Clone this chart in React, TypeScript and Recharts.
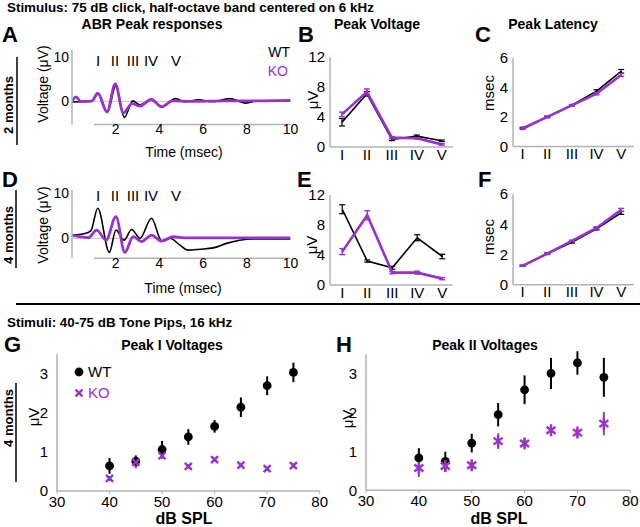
import React from 'react';
import { LineChart, Line, XAxis, YAxis, ReferenceLine, ErrorBar, ScatterChart, Scatter } from 'recharts';

const FONT = '"Liberation Sans", Arial, Helvetica, sans-serif';
const PURPLE = '#9932cc';
const AXIS = '#b3b3b3';

// ---------- Panel A (2 months ABR traces) ----------
const aWtT = [0, 0.4, 0.9, 1.2, 1.62, 2.0, 2.4, 2.78, 3.1, 3.65, 4.1, 4.75, 5.15, 5.8, 6.4, 7.2, 7.95, 8.5, 10];
const aWtV = [-0.15, -0.1, 0.0, 1.7, -2.4, 3.4, -3.6, 0.1, -0.8, 0.45, -1.3, 0.6, -0.1, 0.35, -0.1, 0.6, -0.4, 0.1, 0.15];
const aKoT = [0, 0.18, 0.4, 0.9, 1.18, 1.6, 1.98, 2.35, 2.75, 3.1, 3.62, 4.1, 4.6, 5.5, 7.0, 8.5, 10];
const aKoV = [0.0, 1.0, 0.0, 0.05, 1.8, -2.4, 3.9, -2.6, -0.5, -1.1, 0.4, -1.2, 0.1, 0.0, 0.1, 0.1, 0.2];

// ---------- Panel D (4 months ABR traces) ----------
const dWtT = [0, 0.6, 0.86, 1.18, 1.71, 2.01, 2.38, 2.73, 3.11, 3.64, 4.1, 4.48, 4.94, 5.32, 5.85, 6.46, 7.07, 7.68, 8.28, 10];
const dWtV = [0.73, 1.1, 1.64, 6.67, -3.1, 1.84, -0.38, 1.96, 0.03, 4.44, -0.53, 0.03, -1.49, -2.6, -2.4, -2.1, -1.1, -0.4, -0.15, -0.15];
const dKoT = [0, 0.37, 0.75, 1.13, 1.56, 2.01, 2.42, 2.8, 3.19, 3.64, 4.1, 4.63, 5.24, 10];
const dKoV = [0.73, 0.36, 0.14, 1.84, -0.4, 4.8, -3.1, 0.4, -0.7, 0.73, -0.6, 0.36, 0.1, 0.1];

const timeTicks = [2, 4, 6, 8, 10];

// ---------- Peak panels B, C, E, F ----------
const peakLabels = ['I', 'II', 'III', 'IV', 'V'];
const peakIdx = [1, 2, 3, 4, 5];

const bWt = [3.3, 7.1, 1.0, 1.45, 0.83];
const bWtErr = [0.5, 0.3, 0.15, 0.15, 0.1];
const bKo = [4.35, 7.35, 1.25, 1.16, 0.35];
const bKoErr = [0.3, 0.4, 0.15, 0.1, 0.1];

const cWt = [1.25, 2.0, 2.8, 3.75, 5.1];
const cWtErr = [0.05, 0.05, 0.05, 0.1, 0.12];
const cKo = [1.2, 2.0, 2.78, 3.58, 4.85];
const cKoErr = [0.05, 0.05, 0.05, 0.08, 0.1];

const eWt = [10.1, 3.2, 2.3, 6.3, 3.8];
const eWtErr = [0.6, 0.15, 0.2, 0.4, 0.3];
const eKo = [4.45, 9.3, 1.65, 1.65, 0.85];
const eKoErr = [0.4, 0.6, 0.15, 0.2, 0.15];

const fWt = [1.25, 2.05, 2.8, 3.7, 4.75];
const fWtErr = [0.04, 0.05, 0.05, 0.08, 0.1];
const fKo = [1.25, 2.05, 2.9, 3.75, 4.95];
const fKoErr = [0.04, 0.05, 0.05, 0.08, 0.1];

// ---------- Panels G, H (tone pips) ----------
const dbLevels = [40, 45, 50, 55, 60, 65, 70, 75];
const dbTicks = [30, 40, 50, 60, 70, 80];
const uvTicks = [0, 1, 2, 3];

const gWt = [0.64, 0.76, 1.06, 1.38, 1.65, 2.14, 2.69, 3.03];
const gWtErr = [0.2, 0.15, 0.22, 0.2, 0.16, 0.25, 0.24, 0.25];
const gKo = [0.32, 0.73, 0.9, 0.63, 0.8, 0.66, 0.57, 0.65];
const gKoErr = [0.06, 0.15, 0.08, 0.05, 0.05, 0.05, 0.05, 0.05];

const hWt = [0.83, 0.74, 1.21, 1.94, 2.58, 3.0, 3.27, 2.9];
const hWtErr = [0.25, 0.25, 0.24, 0.3, 0.37, 0.4, 0.3, 0.5];
const hKo = [0.57, 0.62, 0.64, 1.26, 1.2, 1.54, 1.48, 1.71];
const hKoErr = [0.23, 0.12, 0.1, 0.2, 0.12, 0.12, 0.12, 0.3];

// ---------- helpers ----------
function frame(x0: number, y0: number, x1: number, y1: number, yw: number, xh: number) {
  const pad = 12;
  return {
    style: { position: 'absolute' as const, left: x0 - yw, top: y0 - pad },
    width: x1 - x0 + yw + pad,
    height: y1 - y0 + xh + 2 * pad,
    margin: { top: pad, right: pad, bottom: pad, left: 0 },
    yw,
    xh,
  };
}

const zip = (ts: number[], vs: number[]) => ts.map((t, i) => ({ t, v: vs[i] }));
const peakTable = (wt: number[], wtErr: number[], ko: number[], koErr: number[]) =>
  peakIdx.map((x, i) => ({ x, wt: wt[i], wtErr: wtErr[i], ko: ko[i], koErr: koErr[i] }));
const dbTable = (vals: number[], errs: number[]) => dbLevels.map((x, i) => ({ x, y: vals[i], err: errs[i] }));

const tickStyle = (fs: number) => ({ fontSize: fs, fill: '#000', fontFamily: FONT });

function TracePanel({ f, wtT, wtV, koT, koV, yDomain }: any) {
  return (
    <div style={f.style}>
      <LineChart width={f.width} height={f.height} margin={f.margin}>
        <XAxis type="number" dataKey="t" domain={[0, 10]} ticks={timeTicks} allowDataOverflow axisLine={false}
          tickLine={false} tickSize={0} tickMargin={0} tick={tickStyle(14)} height={f.xh} />
        <YAxis type="number" domain={yDomain} ticks={[0, 10]} allowDataOverflow width={f.yw}
          axisLine={{ stroke: AXIS, strokeWidth: 1.5 }} tickLine={false} tickSize={0} tickMargin={3} tick={tickStyle(14)} />
        <ReferenceLine y={0} stroke="#cccccc" strokeWidth={1.2} />
        <ReferenceLine segment={[{ x: 1, y: yDomain[0] }, { x: 10, y: yDomain[0] }]} stroke={AXIS} strokeWidth={1.5} ifOverflow="visible" />
        <Line data={zip(wtT, wtV)} dataKey="v" type="monotone" stroke="#000" strokeWidth={1.6} dot={false} isAnimationActive={false} />
        <Line data={zip(koT, koV)} dataKey="v" type="monotone" stroke={PURPLE} strokeWidth={2.8} dot={false} isAnimationActive={false} />
      </LineChart>
    </div>
  );
}

function PeakPanel({ f, data, xDomain, yDomain, yTicks }: any) {
  return (
    <div style={f.style}>
      <LineChart width={f.width} height={f.height} margin={f.margin} data={data}>
        <XAxis type="number" dataKey="x" domain={xDomain} ticks={peakIdx} allowDataOverflow
          tickFormatter={(v: number) => peakLabels[v - 1]} axisLine={{ stroke: AXIS, strokeWidth: 1.5 }}
          tickLine={false} tickSize={0} tickMargin={2} tick={tickStyle(15)} height={f.xh} />
        <YAxis type="number" domain={yDomain} ticks={yTicks} allowDataOverflow width={f.yw}
          axisLine={{ stroke: AXIS, strokeWidth: 1.5 }} tickLine={false} tickSize={0} tickMargin={5} tick={tickStyle(15)} />
        <Line dataKey="wt" type="linear" stroke="#000" strokeWidth={1.6} dot={false} isAnimationActive={false}>
          <ErrorBar dataKey="wtErr" direction="y" width={3} stroke="#000" strokeWidth={1.2} />
        </Line>
        <Line dataKey="ko" type="linear" stroke={PURPLE} strokeWidth={2.6} dot={false} isAnimationActive={false}>
          <ErrorBar dataKey="koErr" direction="y" width={3} stroke={PURPLE} strokeWidth={1.4} />
        </Line>
      </LineChart>
    </div>
  );
}

const DotShape = (p: any) => <circle cx={p.cx} cy={p.cy} r={4.4} fill="#000" />;
const XShape = (p: any) => (
  <g stroke={PURPLE} strokeWidth={2.4}>
    <line x1={p.cx - 3.5} y1={p.cy - 3.5} x2={p.cx + 3.5} y2={p.cy + 3.5} />
    <line x1={p.cx - 3.5} y1={p.cy + 3.5} x2={p.cx + 3.5} y2={p.cy - 3.5} />
  </g>
);
const StarShape = (p: any) => (
  <g stroke={PURPLE} strokeWidth={2.4}>
    <line x1={p.cx - 4.5} y1={p.cy - 3.5} x2={p.cx + 4.5} y2={p.cy + 3.5} />
    <line x1={p.cx - 4.5} y1={p.cy + 3.5} x2={p.cx + 4.5} y2={p.cy - 3.5} />
    <line x1={p.cx} y1={p.cy - 6} x2={p.cx} y2={p.cy + 6} />
  </g>
);

function DbPanel({ f, wt, ko, koShape }: any) {
  return (
    <div style={f.style}>
      <ScatterChart width={f.width} height={f.height} margin={f.margin}>
        <XAxis type="number" dataKey="x" domain={[30, 80]} ticks={dbTicks} allowDataOverflow
          axisLine={{ stroke: AXIS, strokeWidth: 1.5 }} tickLine={{ stroke: AXIS }} tickSize={3} tickMargin={2}
          tick={tickStyle(15)} height={f.xh} />
        <YAxis type="number" dataKey="y" domain={[0, 3.5]} ticks={uvTicks} allowDataOverflow width={f.yw}
          axisLine={{ stroke: AXIS, strokeWidth: 1.5 }} tickLine={false} tickSize={0} tickMargin={9} tick={tickStyle(15)} />
        <Scatter data={wt} dataKey="y" shape={DotShape} isAnimationActive={false}>
          <ErrorBar dataKey="err" direction="y" width={0} stroke="#000" strokeWidth={2} />
        </Scatter>
        <Scatter data={ko} dataKey="y" shape={koShape} isAnimationActive={false}>
          <ErrorBar dataKey="err" direction="y" width={0} stroke={PURPLE} strokeWidth={2} />
        </Scatter>
      </ScatterChart>
    </div>
  );
}

const txt = { fontFamily: FONT, fill: '#000' };

function Rot({ x, y, children, size = 14, bold = false }: any) {
  return (
    <text transform={`translate(${x},${y}) rotate(-90)`} textAnchor="middle" dominantBaseline="central"
      fontSize={size} fontWeight={bold ? 'bold' : 'normal'} {...txt}>{children}</text>
  );
}

function Overlay() {
  const romanX = [98, 115, 133, 151, 176];
  return (
    <svg width={640} height={527} style={{ position: 'absolute', left: 0, top: 0, pointerEvents: 'none' }}>
      <text x={7} y={12} fontSize={13.4} fontWeight="bold" {...txt}>Stimulus: 75 dB click, half-octave band centered on 6 kHz</text>
      {/* letters */}
      <text x={2} y={42} fontSize={22} fontWeight="bold" {...txt}>A</text>
      <text x={298} y={42} fontSize={22} fontWeight="bold" {...txt}>B</text>
      <text x={475} y={42} fontSize={22} fontWeight="bold" {...txt}>C</text>
      <text x={2} y={187} fontSize={22} fontWeight="bold" {...txt}>D</text>
      <text x={297} y={187} fontSize={22} fontWeight="bold" {...txt}>E</text>
      <text x={478} y={187} fontSize={22} fontWeight="bold" {...txt}>F</text>
      <text x={4} y={352} fontSize={22} fontWeight="bold" {...txt}>G</text>
      <text x={336} y={352} fontSize={22} fontWeight="bold" {...txt}>H</text>
      {/* titles */}
      <text x={152} y={29} fontSize={14} fontWeight="bold" textAnchor="middle" {...txt}>ABR Peak responses</text>
      <text x={377} y={29} fontSize={14} fontWeight="bold" textAnchor="middle" {...txt}>Peak Voltage</text>
      <text x={553} y={29} fontSize={14} fontWeight="bold" textAnchor="middle" {...txt}>Peak Latency</text>
      <text x={172} y={350} fontSize={14} fontWeight="bold" textAnchor="middle" {...txt}>Peak I Voltages</text>
      <text x={485} y={350} fontSize={14} fontWeight="bold" textAnchor="middle" {...txt}>Peak II Voltages</text>
      {/* legend A */}
      <text x={290} y={57} fontSize={14} textAnchor="end" {...txt}>WT</text>
      <text x={288} y={76} fontSize={14} textAnchor="end" fontFamily={FONT} fill={PURPLE}>KO</text>
      {/* roman labels */}
      {peakLabels.map((l, i) => (
        <text key={'a' + l} x={romanX[i]} y={66} fontSize={15} textAnchor="middle" {...txt}>{l}</text>
      ))}
      {peakLabels.map((l, i) => (
        <text key={'d' + l} x={romanX[i]} y={201} fontSize={15} textAnchor="middle" {...txt}>{l}</text>
      ))}
      {/* axis titles */}
      <Rot x={43} y={84}>Voltage (μV)</Rot>
      <Rot x={43} y={225}>Voltage (μV)</Rot>
      <text x={184} y={157} fontSize={14} textAnchor="middle" {...txt}>Time (msec)</text>
      <text x={183} y={293} fontSize={14} textAnchor="middle" {...txt}>Time (msec)</text>
      <Rot x={312} y={100} size={15}>μV</Rot>
      <Rot x={311} y={245} size={15}>μV</Rot>
      <Rot x={488} y={93} size={15}>msec</Rot>
      <Rot x={488} y={237} size={15}>msec</Rot>
      <Rot x={33} y={417} size={15}>μV</Rot>
      <Rot x={347} y={419} size={15}>μV</Rot>
      <text x={184} y={524} fontSize={16} fontWeight="bold" textAnchor="middle" {...txt}>dB SPL</text>
      <text x={499} y={524} fontSize={16} fontWeight="bold" textAnchor="middle" {...txt}>dB SPL</text>
      {/* age labels */}
      <Rot x={8} y={105} size={13} bold>2 months</Rot>
      <line x1={17} y1={57} x2={17} y2={145} stroke="#000" strokeWidth={1.5} />
      <Rot x={8} y={235} size={13} bold>4 months</Rot>
      <line x1={16} y1={190} x2={16} y2={268} stroke="#000" strokeWidth={1.5} />
      <Rot x={8} y={418} size={13} bold>4 months</Rot>
      <line x1={16} y1={383} x2={16} y2={482} stroke="#000" strokeWidth={1.5} />
      {/* divider */}
      <line x1={16} y1={304} x2={640} y2={304} stroke="#000" strokeWidth={2} />
      <text x={7} y={327} fontSize={13.4} fontWeight="bold" {...txt}>Stimuli: 40-75 dB Tone Pips, 16 kHz</text>
      {/* legend G */}
      <circle cx={79} cy={372} r={4.4} fill="#000" />
      <text x={88} y={377} fontSize={15} {...txt}>WT</text>
      <g stroke={PURPLE} strokeWidth={2.4}>
        <line x1={75.5} y1={389.5} x2={82.5} y2={396.5} />
        <line x1={75.5} y1={396.5} x2={82.5} y2={389.5} />
      </g>
      <text x={88} y={398} fontSize={15} fontFamily={FONT} fill={PURPLE}>KO</text>
    </svg>
  );
}

export default function App() {
  const fA = frame(72, 50, 290.5, 124.5, 40, 22);
  const fD = frame(72, 190, 290.5, 258.3, 40, 22);
  const fB = frame(330, 56.7, 453, 146.7, 30, 22);
  const fC = frame(513, 58.3, 634, 146.7, 25, 22);
  const fE = frame(329.5, 195, 452, 285, 30, 22);
  const fF = frame(513, 194.3, 634, 285, 25, 22);
  const fG = frame(57.3, 353.7, 320, 490.7, 30, 24);
  const fH = frame(365.7, 353.8, 630, 490, 30, 24);
  return (
    <div style={{ position: 'absolute', left: 0, top: 0, width: 640, height: 527, overflow: 'hidden', background: '#fff', fontFamily: FONT }}>
      <TracePanel f={fA} wtT={aWtT} wtV={aWtV} koT={aKoT} koV={aKoV} yDomain={[-5.2, 11.5]} />
      <TracePanel f={fD} wtT={dWtT} wtV={dWtV} koT={dKoT} koV={dKoV} yDomain={[-4.4, 10.7]} />
      <PeakPanel f={fB} data={peakTable(bWt, bWtErr, bKo, bKoErr)} xDomain={[0.52, 5.45]} yDomain={[0, 12]} yTicks={[0, 4, 8, 12]} />
      <PeakPanel f={fC} data={peakTable(cWt, cWtErr, cKo, cKoErr)} xDomain={[0.61, 5.52]} yDomain={[0, 6]} yTicks={[0, 2, 4, 6]} />
      <PeakPanel f={fE} data={peakTable(eWt, eWtErr, eKo, eKoErr)} xDomain={[0.51, 5.41]} yDomain={[0, 12]} yTicks={[0, 4, 8, 12]} />
      <PeakPanel f={fF} data={peakTable(fWt, fWtErr, fKo, fKoErr)} xDomain={[0.61, 5.52]} yDomain={[0, 6]} yTicks={[0, 2, 4, 6]} />
      <DbPanel f={fG} wt={dbTable(gWt, gWtErr)} ko={dbTable(gKo, gKoErr)} koShape={XShape} />
      <DbPanel f={fH} wt={dbTable(hWt, hWtErr)} ko={dbTable(hKo, hKoErr)} koShape={StarShape} />
      <Overlay />
    </div>
  );
}
